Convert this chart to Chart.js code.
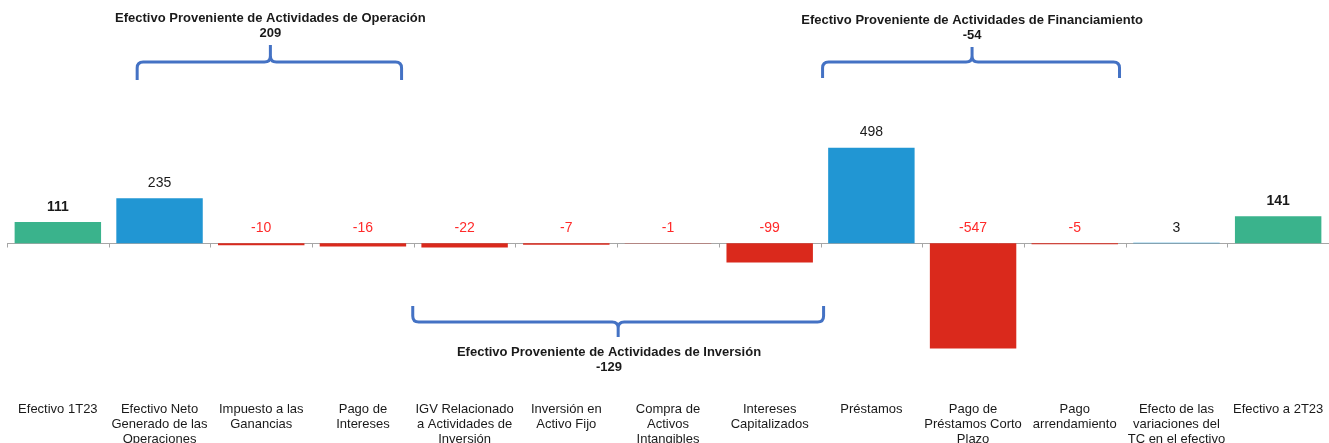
<!DOCTYPE html>
<html>
<head>
<meta charset="utf-8">
<script src="https://cdn.jsdelivr.net/npm/chart.js@4.4.1/dist/chart.umd.min.js"></script>
<style>
  html, body { margin:0; padding:0; background:#fff; }
  #wrap { width:1329px; height:443px; position:relative; }
</style>
</head>
<body>
<div id="wrap"><canvas id="flowChart"></canvas></div>
<script>
const categories = [
  ["Efectivo 1T23"],
  ["Efectivo Neto", "Generado de las", "Operaciones"],
  ["Impuesto a las", "Ganancias"],
  ["Pago de", "Intereses"],
  ["IGV Relacionado", "a Actividades de", "Inversión"],
  ["Inversión en", "Activo Fijo"],
  ["Compra de", "Activos", "Intangibles"],
  ["Intereses", "Capitalizados"],
  ["Préstamos"],
  ["Pago de", "Préstamos Corto", "Plazo"],
  ["Pago", "arrendamiento"],
  ["Efecto de las", "variaciones del", "TC en el efectivo"],
  ["Efectivo a 2T23"]
];
const values = [111, 235, -10, -16, -22, -7, -1, -99, 498, -547, -5, 3, 141];

const groupNames = [
  "Efectivo Proveniente de Actividades de Operación",
  "Efectivo Proveniente de Actividades de Inversión",
  "Efectivo Proveniente de Actividades de Financiamiento"
];
const groupTotals = [209, -129, -54];

const FONT = "'Liberation Sans', Arial, sans-serif";
const GREEN = "#3AB38C", BLUE = "#2196D3", RED = "#DA291C";
const LABEL_RED = "#FF2A2A", TEXT = "#1a1a1a", BRACE = "#4472C4";

Chart.defaults.font.family = FONT;

function isTotal(i){ return i === 0 || i === values.length - 1; }

function barColor(i){
  if(isTotal(i)) return GREEN;
  return values[i] >= 0 ? BLUE : RED;
}

// braces: from/to/tip in category index units; up = tip points up
const braces = [
  { group:0, from:0.78, to:3.38, tip:2.09, up:true,  yH:62, yEnd:80, yTip:45, textY:18 },
  { group:1, from:3.49, to:7.53, tip:5.51, up:false, yH:322, yEnd:306, yTip:337, textY:352, textX:5.42 },
  { group:2, from:7.52, to:10.44, tip:8.99, up:true, yH:62, yEnd:78, yTip:47, textY:20 }
];

const axisPlugin = {
  id: "zeroAxis",
  beforeDatasetsDraw(chart){
    const { ctx, chartArea, scales:{ x, y } } = chart;
    const y0 = Math.round(y.getPixelForValue(0)) + 0.5;
    ctx.save();
    ctx.strokeStyle = "#A6A6A6";
    ctx.lineWidth = 1;
    ctx.beginPath();
    ctx.moveTo(chartArea.left, y0);
    ctx.lineTo(chartArea.right, y0);
    for(let i = 0; i <= values.length; i++){
      const px = Math.round(x.getPixelForValue(i - 0.5)) + 0.5;
      ctx.moveTo(px, y0);
      ctx.lineTo(px, y0 + 4);
    }
    ctx.stroke();
    ctx.restore();
  }
};

const labelPlugin = {
  id: "valueLabels",
  afterDatasetsDraw(chart){
    const { ctx } = chart;
    const meta = chart.getDatasetMeta(0);
    ctx.save();
    ctx.textAlign = "center";
    ctx.textBaseline = "middle";
    meta.data.forEach((bar, i) => {
      const v = values[i];
      ctx.font = (isTotal(i) ? "bold " : "") + "14px " + FONT;
      ctx.fillStyle = v < 0 ? LABEL_RED : TEXT;
      const top = Math.min(bar.y, bar.base);
      ctx.fillText(String(v), bar.x, top - 15);
    });
    ctx.restore();
  }
};

const bracePlugin = {
  id: "braces",
  afterDatasetsDraw(chart){
    const { ctx, scales:{ x } } = chart;
    const r = 6;
    ctx.save();
    for(const b of braces){
      const xl = x.getPixelForValue(b.from);
      const xr = x.getPixelForValue(b.to);
      const xt = x.getPixelForValue(b.tip);
      const s = b.up ? 1 : -1;
      ctx.strokeStyle = BRACE;
      ctx.lineWidth = 3;
      ctx.lineJoin = "round";
      ctx.beginPath();
      ctx.moveTo(xl, b.yEnd);
      ctx.lineTo(xl, b.yH + s * r);
      ctx.quadraticCurveTo(xl, b.yH, xl + r, b.yH);
      ctx.lineTo(xt - r, b.yH);
      ctx.quadraticCurveTo(xt, b.yH, xt, b.yH - s * r);
      ctx.lineTo(xt, b.yTip);
      ctx.moveTo(xt, b.yH - s * r);
      ctx.quadraticCurveTo(xt, b.yH, xt + r, b.yH);
      ctx.lineTo(xr - r, b.yH);
      ctx.quadraticCurveTo(xr, b.yH, xr, b.yH + s * r);
      ctx.lineTo(xr, b.yEnd);
      ctx.stroke();

      const tx = x.getPixelForValue(b.textX !== undefined ? b.textX : b.tip);
      ctx.fillStyle = TEXT;
      ctx.font = "bold 13px " + FONT;
      ctx.textAlign = "center";
      ctx.textBaseline = "middle";
      ctx.fillText(groupNames[b.group], tx, b.textY);
      ctx.fillText(String(groupTotals[b.group]), tx, b.textY + 15);
    }
    ctx.restore();
  }
};

new Chart(document.getElementById("flowChart"), {
  type: "bar",
  data: {
    labels: categories,
    datasets: [{
      data: values,
      backgroundColor: values.map((v, i) => barColor(i)),
      borderWidth: 0,
      barPercentage: 0.85,
      categoryPercentage: 1
    }]
  },
  options: {
    responsive: true,
    maintainAspectRatio: false,
    animation: false,
    layout: { padding: { left: 7, right: 0, top: 0, bottom: -7 } },
    plugins: { legend: { display: false }, tooltip: { enabled: false } },
    scales: {
      x: {
        grid: { display: false },
        border: { display: false },
        ticks: {
          autoSkip: false,
          maxRotation: 0,
          minRotation: 0,
          padding: 3,
          color: TEXT,
          font: { size: 13, lineHeight: "15px" }
        }
      },
      y: {
        display: false,
        min: -768,
        max: 1266
      }
    }
  },
  plugins: [axisPlugin, labelPlugin, bracePlugin]
});
</script>
</body>
</html>
